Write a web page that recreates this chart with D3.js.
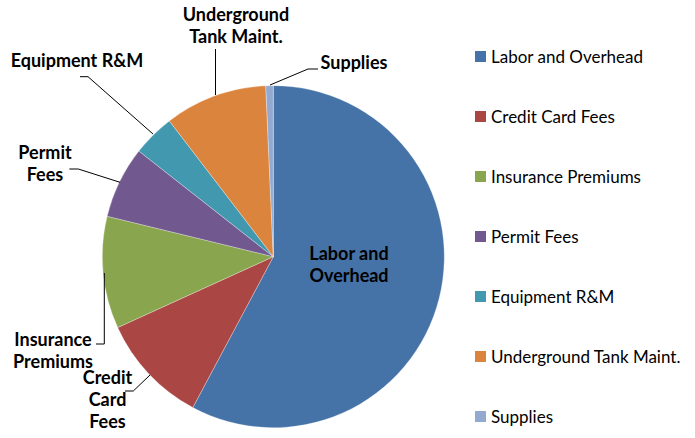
<!DOCTYPE html>
<html>
<head>
<meta charset="utf-8">
<script src="https://cdn.jsdelivr.net/npm/d3@7"></script>
<style>
    body { margin: 0; background: #fff; }
    svg { font-family: Lato, 'Noto Sans', sans-serif; }
    .sliceLabel { font-weight: bold; font-size: 18px; fill: #000; }
    .legendLabel { font-size: 17px; fill: #000; }
    .leader { fill: none; stroke: #000; stroke-width: 1; }
</style>
</head>
<body>
<div class="cost_pie"></div>
<script>
// Cost shares (percent)
let categories = ['Labor and Overhead', 'Credit Card Fees', 'Insurance Premiums', 'Permit Fees',
                  'Equipment R&M', 'Underground Tank Maint.', 'Supplies'],
    values = [57.8, 10.4, 10.6, 6.8, 4.0, 9.7, 0.7],
    colors = ['#4572a7', '#aa4643', '#89a54e', '#71588f', '#4198af', '#db843d', '#93a9cf'];

// Callout text, one line per entry
let calloutLines = [
    ['Labor and', 'Overhead'],
    ['Credit', 'Card', 'Fees'],
    ['Insurance', 'Premiums'],
    ['Permit', 'Fees'],
    ['Equipment R&M'],
    ['Underground', 'Tank Maint.'],
    ['Supplies']
];

let w = 695, h = 438,
    cx = 273.3, cy = 256.7, r = 171;

let chart = d3.select('.cost_pie')
    .append('svg')
    .attr('width', w)
    .attr('height', h);

let pie = d3.pie().sort(null).value((d) => d)(values);
let arc = d3.arc().innerRadius(0).outerRadius(r);

chart.append('g')
    .attr('transform', 'translate(' + cx + ',' + cy + ')')
    .selectAll('path')
    .data(pie)
    .enter().append('path')
    .attr('d', arc)
    .attr('fill', (d, i) => colors[i])
    .attr('stroke', '#fff')
    .attr('stroke-opacity', 0.5)
    .attr('stroke-width', 0.6);

// Where each callout sits: text centre x, first baseline, and leader points
let lineStep = 22;
let layout = [
    { x: 349, y: 260, leader: null },
    { x: 107.5, y: 384, leader: [[125, 391], [133.3, 391], [150, 375]] },
    { x: 53, y: 346, leader: [[96, 344], [104.3, 344], [104.3, 273]] },
    { x: 45, y: 159, leader: [[69.3, 169], [78.3, 169], [120, 182.3]] },
    { x: 77, y: 66.5, leader: [[80, 76.7], [88, 76.7], [153, 134]] },
    { x: 236, y: 20.5, leader: [[215.5, 49], [215.5, 95]] },
    { x: 354, y: 69, leader: [[318, 69], [308, 69], [270, 85]] }
];

let labels = chart.append('g');
calloutLines.forEach((lines, i) => {
    let pos = layout[i];
    lines.forEach((t, j) => {
        labels.append('text')
            .attr('class', 'sliceLabel')
            .attr('x', pos.x)
            .attr('y', pos.y + j * lineStep)
            .attr('text-anchor', 'middle')
            .text(t);
    });
    if (pos.leader) {
        labels.append('path')
            .attr('class', 'leader')
            .attr('d', d3.line()(pos.leader));
    }
});

// Legend
let legend = chart.append('g')
    .selectAll('g')
    .data(categories)
    .enter().append('g')
    .attr('transform', (d, i) => 'translate(475,' + (51 + i * 60) + ')');

legend.append('rect')
    .attr('width', 11)
    .attr('height', 11)
    .attr('fill', (d, i) => colors[i]);

legend.append('text')
    .attr('class', 'legendLabel')
    .attr('x', 16)
    .attr('y', 11.5)
    .text((d) => d);
</script>
</body>
</html>
